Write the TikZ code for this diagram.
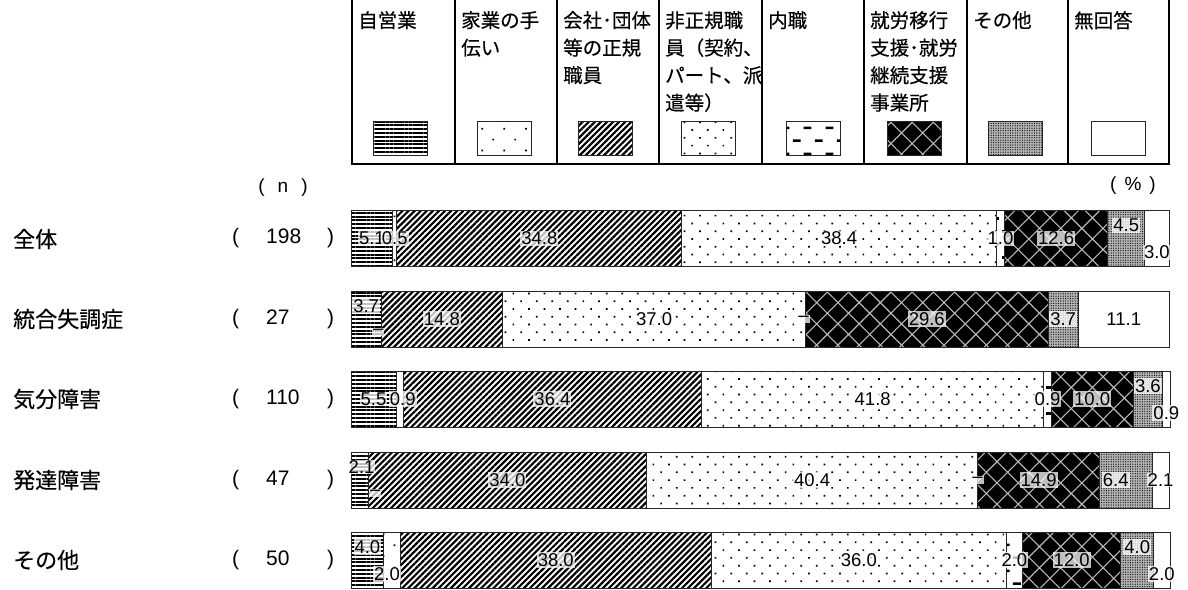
\documentclass[tikz,border=0pt]{standalone}
\usepackage{fontspec}
\setmainfont{Liberation Sans}
\newfontfamily\jp[FakeBold=0.3]{Noto Sans CJK JP}
\usetikzlibrary{positioning,patterns.meta}

\tikzdeclarepattern{
  name=dashrows,
  type=uncolored,
  bottom left={(0pt,0pt)},
  top right={(22pt,26pt)},
  tile size={(22pt,26pt)},
  code={
    \pgfsetlinewidth{2.6pt}
    \pgfpathmoveto{\pgfqpoint{1pt}{6.5pt}}\pgfpathlineto{\pgfqpoint{9pt}{6.5pt}}
    \pgfpathmoveto{\pgfqpoint{12pt}{19.5pt}}\pgfpathlineto{\pgfqpoint{20pt}{19.5pt}}
    \pgfusepath{stroke}
  }
}

\newcommand{\ncount}[1]{(\hspace{27pt}\makebox[61pt][l]{#1})}

\tikzset{
  bar/.style={draw=black!85, line width=0.8pt, minimum height=56pt, inner sep=0pt, outer sep=0pt, anchor=west},
  pct/.style={minimum width=#1*8.19pt},
  swatch/.style={draw=black!85, line width=0.8pt, minimum width=54pt, minimum height=34pt, inner sep=0pt},
  val/.style={font=\fontsize{18.5pt}{20pt}\selectfont, fill=white, fill opacity=.75, text opacity=1, inner sep=1pt},
  legtxt/.style={anchor=north west, align=left, inner sep=0pt, font=\jp\fontsize{19.5pt}{27.5pt}\selectfont},
  rowlab/.style={anchor=west, inner sep=0pt, font=\jp\fontsize{22pt}{24pt}\selectfont},
  cnt/.style={anchor=west, inner sep=0pt, font=\fontsize{21pt}{24pt}\selectfont},
  hdr/.style={inner sep=0pt, font=\fontsize{19pt}{22pt}\selectfont},
  tbl/.style={line width=1.8pt},
  seg1/.style={pattern={Lines[angle=0,distance=3.8pt,line width=2pt]}},
  seg2/.style={pattern={Dots[distance=15.5pt,radius=1.2pt,angle=45]}},
  seg3/.style={pattern={Lines[angle=45,distance=4.3pt,line width=2.2pt]}},
  seg4/.style={pattern={Dots[distance=11pt,radius=1.2pt,angle=45]}},
  seg5/.style={pattern=dashrows},
  seg6/.style={preaction={fill=black}, pattern={Hatch[angle=45,distance=15pt,line width=1.1pt]}, pattern color=gray!55},
  seg7/.style={preaction={fill=gray!60}, pattern={Dots[distance=2.4pt,radius=0.6pt]}},
  seg8/.style={fill=white}
}

\begin{document}
\begin{tikzpicture}[x=1pt,y=-1pt]
\fill[white] (0,0) rectangle (1188,589);
\useasboundingbox (0,0) rectangle (1188,589);

% legend table
\draw[tbl] (352,0) -- (352,164) -- (1169,164) -- (1169,0);
\draw[tbl] (455,0) -- (455,164) (557,0) -- (557,164) (659,0) -- (659,164) (762,0) -- (762,164)
  (864,0) -- (864,164) (967,0) -- (967,164) (1068,0) -- (1068,164);
\node[legtxt] (t1) at (358,11) {自営業};
\node[legtxt] (t2) at (461,11) {家業の手\\伝い};
\node[legtxt] (t3) at (563,11) {会社･団体\\等の正規\\職員};
\node[legtxt] (t4) at (665,11) {非正規職\\員（契約、\\パート、派\\遣等）};
\node[legtxt] (t5) at (768,11) {内職};
\node[legtxt] (t6) at (870,11) {就労移行\\支援･就労\\継続支援\\事業所};
\node[legtxt] (t7) at (973,11) {その他};
\node[legtxt] (t8) at (1074,11) {無回答};
\node[swatch,seg1] (k1) at (400,138) {};
\node[swatch,seg2] (k2) at (504,138) {};
\node[swatch,seg3] (k3) at (605,138) {};
\node[swatch,seg4] (k4) at (708,138) {};
\node[swatch,seg5] (k5) at (813,138) {};
\node[swatch,seg6] (k6) at (914,138) {};
\node[swatch,seg7] (k7) at (1015,138) {};
\node[swatch,seg8] (k8) at (1118,138) {};

\node[hdr] (nh) at (283,188) {(\hspace{13pt}n\hspace{13pt})};
\node[hdr] (ph) at (1133,186) {(\hspace{8pt}\%\hspace{8pt})};

% row labels
\node[rowlab] (g1) at (13,239) {全体};
\node[rowlab] (g2) at (13,319) {統合失調症};
\node[rowlab] (g3) at (13,399) {気分障害};
\node[rowlab] (g4) at (13,480) {発達障害};
\node[rowlab] (g5) at (13,560) {その他};
\node[cnt] (n1) at (232,238.5) {\ncount{198}};
\node[cnt] (n2) at (232,319) {\ncount{27}};
\node[cnt] (n3) at (232,399) {\ncount{110}};
\node[cnt] (n4) at (232,480) {\ncount{47}};
\node[cnt] (n5) at (232,560) {\ncount{50}};

% row 1
\node[bar,seg1,pct=5.1] (r1s1) at (351,238.5) {};
\node[bar,seg2,pct=0.5,right=0pt of r1s1] (r1s2) {};
\node[bar,seg3,pct=34.8,right=0pt of r1s2] (r1s3) {};
\node[bar,seg4,pct=38.4,right=0pt of r1s3] (r1s4) {};
\node[bar,seg5,pct=1.0,right=0pt of r1s4] (r1s5) {};
\node[bar,seg6,pct=12.6,right=0pt of r1s5] (r1s6) {};
\node[bar,seg7,pct=4.5,right=0pt of r1s6] (r1s7) {};
\node[bar,seg8,pct=3.0,right=0pt of r1s7] (r1s8) {};
\node[val] (r1v1) at (r1s1) {5.1};
\node[val] (r1v2) at (r1s2) {0.5};
\node[val] (r1v3) at (r1s3) {34.8};
\node[val] (r1v4) at (r1s4) {38.4};
\node[val] (r1v5) at (r1s5) {1.0};
\node[val] (r1v6) at (r1s6) {12.6};
\node[val,yshift=13pt] (r1v7) at (r1s7) {4.5};
\node[val,yshift=-14pt] (r1v8) at (r1s8) {3.0};

% row 2
\node[bar,seg1,pct=3.7] (r2s1) at (351,319) {};
\node[bar,seg3,pct=14.8,right=0pt of r2s1] (r2s3) {};
\node[bar,seg4,pct=37.0,right=0pt of r2s3] (r2s4) {};
\node[bar,seg6,pct=29.6,right=0pt of r2s4] (r2s6) {};
\node[bar,seg7,pct=3.7,right=0pt of r2s6] (r2s7) {};
\node[bar,seg8,pct=11.1,right=0pt of r2s7] (r2s8) {};
\node[val,yshift=13pt] (r2v1) at (r2s1) {3.7};
\node[val,yshift=-13pt,xshift=-3pt] (r2v2) at (r2s1.east) {–};
\node[val] (r2v3) at (r2s3) {14.8};
\node[val] (r2v4) at (r2s4) {37.0};
\node[val,xshift=-2pt] (r2v5) at (r2s4.east) {–};
\node[val] (r2v6) at (r2s6) {29.6};
\node[val] (r2v7) at (r2s7) {3.7};
\node[val] (r2v8) at (r2s8) {11.1};

% row 3
\node[bar,seg1,pct=5.5] (r3s1) at (351,399) {};
\node[bar,seg2,pct=0.9,right=0pt of r3s1] (r3s2) {};
\node[bar,seg3,pct=36.4,right=0pt of r3s2] (r3s3) {};
\node[bar,seg4,pct=41.8,right=0pt of r3s3] (r3s4) {};
\node[bar,seg5,pct=0.9,right=0pt of r3s4] (r3s5) {};
\node[bar,seg6,pct=10.0,right=0pt of r3s5] (r3s6) {};
\node[bar,seg7,pct=3.6,right=0pt of r3s6] (r3s7) {};
\node[bar,seg8,pct=0.9,right=0pt of r3s7] (r3s8) {};
\node[val] (r3v1) at (r3s1) {5.5};
\node[val,xshift=3pt] (r3v2) at (r3s2) {0.9};
\node[val] (r3v3) at (r3s3) {36.4};
\node[val] (r3v4) at (r3s4) {41.8};
\node[val] (r3v5) at (r3s5) {0.9};
\node[val] (r3v6) at (r3s6) {10.0};
\node[val,yshift=13pt] (r3v7) at (r3s7) {3.6};
\node[val,yshift=-14pt] (r3v8) at (r3s8) {0.9};

% row 4
\node[bar,seg1,pct=2.1] (r4s1) at (351,480) {};
\node[bar,seg3,pct=34.0,right=0pt of r4s1] (r4s3) {};
\node[bar,seg4,pct=40.4,right=0pt of r4s3] (r4s4) {};
\node[bar,seg6,pct=14.9,right=0pt of r4s4] (r4s6) {};
\node[bar,seg7,pct=6.4,right=0pt of r4s6] (r4s7) {};
\node[bar,seg8,pct=2.1,right=0pt of r4s7] (r4s8) {};
\node[val,yshift=13pt,xshift=2pt] (r4v1) at (r4s1) {2.1};
\node[val,yshift=-13pt,xshift=7pt] (r4v2) at (r4s1.east) {–};
\node[val] (r4v3) at (r4s3) {34.0};
\node[val] (r4v4) at (r4s4) {40.4};
\node[val] (r4v5) at (r4s4.east) {–};
\node[val] (r4v6) at (r4s6) {14.9};
\node[val,xshift=-10pt] (r4v7) at (r4s7) {6.4};
\node[val] (r4v8) at (r4s8) {2.1};

% row 5
\node[bar,seg1,pct=4.0] (r5s1) at (351,560) {};
\node[bar,seg2,pct=2.0,right=0pt of r5s1] (r5s2) {};
\node[bar,seg3,pct=38.0,right=0pt of r5s2] (r5s3) {};
\node[bar,seg4,pct=36.0,right=0pt of r5s3] (r5s4) {};
\node[bar,seg5,pct=2.0,right=0pt of r5s4] (r5s5) {};
\node[bar,seg6,pct=12.0,right=0pt of r5s5] (r5s6) {};
\node[bar,seg7,pct=4.0,right=0pt of r5s6] (r5s7) {};
\node[bar,seg8,pct=2.0,right=0pt of r5s7] (r5s8) {};
\node[val,yshift=13pt] (r5v1) at (r5s1) {4.0};
\node[val,yshift=-14pt,xshift=-5pt] (r5v2) at (r5s2) {2.0};
\node[val] (r5v3) at (r5s3) {38.0};
\node[val] (r5v4) at (r5s4) {36.0};
\node[val] (r5v5) at (r5s5) {2.0};
\node[val] (r5v6) at (r5s6) {12.0};
\node[val,yshift=13pt] (r5v7) at (r5s7) {4.0};
\node[val,yshift=-14pt] (r5v8) at (r5s8) {2.0};
\end{tikzpicture}
\end{document}
